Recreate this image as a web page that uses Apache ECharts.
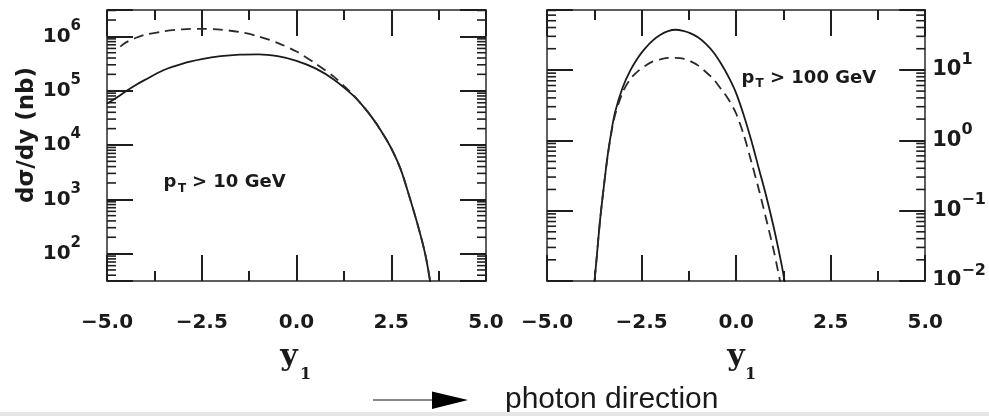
<!DOCTYPE html>
<html><head><meta charset="utf-8">
<script src="https://cdn.jsdelivr.net/npm/echarts@6/dist/echarts.min.js"></script>
<style>html,body{margin:0;padding:0;background:#fff}#c{width:989px;height:416px}</style>
</head><body><div id="c"></div>
<script>
// ---- data ----
const leftSolidX = [-5, -4.75, -4.5, -4.25, -4, -3.5, -3, -2.5, -2, -1.5, -1, -0.5, 0, 0.5, 1, 1.5, 1.75, 2, 2.25, 2.5, 2.75, 3, 3.25, 3.4, 3.5, 3.6];
const leftSolidY = [5.75e4, 7.41e4, 9.77e4, 1.26e5, 1.58e5, 2.40e5, 3.16e5, 3.80e5, 4.32e5, 4.62e5, 4.68e5, 4.32e5, 3.55e5, 2.57e5, 1.58e5, 8.13e4, 5.25e4, 3.16e4, 1.74e4, 8.71e3, 3.55e3, 1.0e3, 251, 95.5, 39.8, 14.1];
const leftDashX = [-4.65, -4.5, -4.25, -4, -3.5, -3, -2.5, -2, -1.5, -1, -0.5, 0, 0.5, 1, 1.25, 1.5, 1.75, 2, 2.25, 2.5, 2.75, 3, 3.25, 3.4, 3.5, 3.6];
const leftDashY = [6.46e5, 7.76e5, 9.33e5, 1.07e6, 1.24e6, 1.35e6, 1.38e6, 1.33e6, 1.20e6, 1.0e6, 7.59e5, 5.25e5, 3.16e5, 1.78e5, 1.23e5, 8.32e4, 5.25e4, 3.16e4, 1.74e4, 8.71e3, 3.55e3, 1.0e3, 251, 95.5, 39.8, 14.1];
const rightSolidX = [-3.78, -3.7, -3.6, -3.5, -3.4, -3.3, -3.2, -3.0, -2.8, -2.6, -2.4, -2.2, -2.0, -1.8, -1.6, -1.4, -1.2, -1.0, -0.8, -0.6, -0.4, -0.2, 0.0, 0.2, 0.4, 0.6, 0.8, 1.0, 1.2, 1.28, 1.32];
const rightSolidY = [6.3e-3, 0.0178, 0.0708, 0.214, 0.589, 1.32, 2.51, 5.62, 9.77, 14.8, 20.4, 26.3, 31.6, 35.5, 37.2, 35.9, 33.1, 28.8, 23.4, 17.8, 12.3, 7.94, 4.68, 2.29, 1.0, 0.398, 0.158, 0.0562, 0.0174, 0.01, 7.1e-3];
const rightDashX = [-3.78, -3.7, -3.6, -3.5, -3.4, -3.3, -3.2, -3.0, -2.8, -2.6, -2.4, -2.2, -2.0, -1.8, -1.6, -1.4, -1.2, -1.0, -0.8, -0.6, -0.4, -0.2, 0.0, 0.2, 0.4, 0.6, 0.8, 1.0, 1.1, 1.17, 1.2];
const rightDashY = [6.3e-3, 0.0178, 0.0708, 0.214, 0.575, 1.26, 2.29, 4.79, 7.41, 9.55, 11.5, 13.2, 14.1, 14.8, 14.8, 14.5, 13.2, 11.5, 9.33, 7.41, 5.37, 3.80, 2.40, 1.20, 0.501, 0.200, 0.0741, 0.0263, 0.0145, 9.5e-3, 7.6e-3];
const xRange = [-5, 5];
const leftYRange = [31.3, 3.06e6];
const rightYRange = [0.01, 71];
const leftLabel = '> 10 GeV';
const rightLabel = '> 100 GeV';
const yTitle = 'dσ/dy (nb)';

function pairs(xs, ys) { return xs.map((x, i) => [x, ys[i]]); }
function minorLogTicks(range) {
  const out = [];
  for (let n = -3; n <= 7; n++) for (let k = 2; k <= 9; k++) {
    const v = k * Math.pow(10, n);
    if (v > range[0] && v < range[1]) out.push([xRange[0], v]);
  }
  return out;
}
const INK = '#1e1e1e';
function xAx(gi, pos, showLabel) {
  return {
    type: 'value', gridIndex: gi, position: pos, min: xRange[0], max: xRange[1], interval: 2.5,
    axisLine: { show: true, onZero: false, lineStyle: { color: '#2a2a2a', width: 1.5 } },
    axisTick: { show: true, inside: true, length: 26, lineStyle: { color: INK, width: 2 } },
    minorTick: { show: true, splitNumber: 2, length: 10, lineStyle: { color: INK, width: 2 } },
    splitLine: { show: false }, minorSplitLine: { show: false },
    axisLabel: { show: showLabel, margin: 32, fontFamily: 'DejaVu Sans', fontWeight: 'bold', fontSize: 20, color: '#1a1a1a',
      formatter: v => (v < 0 ? '−' : '') + Math.abs(v).toFixed(1) }
  };
}
function supFmt(v) {
  const l = Math.log10(v), r = Math.round(l);
  if (Math.abs(l - r) > 1e-3) return '';
  const e = r < 0 ? '−' + (-r) : String(r);
  return '{b|10}{s|' + e + '}';
}
function yAx(gi, pos, range, showLabel, margin, fs) {
  return {
    type: 'log', logBase: 10, gridIndex: gi, position: pos, min: range[0], max: range[1],
    axisLine: { show: true, onZero: false, lineStyle: { color: '#2a2a2a', width: 1.5 } },
    axisTick: { show: true, inside: true, length: 26, lineStyle: { color: INK, width: 2 } },
    minorTick: { show: false }, splitLine: { show: false }, minorSplitLine: { show: false },
    axisLabel: { show: showLabel, margin: margin, formatter: supFmt,
      rich: {
        b: { fontFamily: 'DejaVu Sans', fontWeight: 'bold', fontSize: fs, color: '#1a1a1a' },
        s: { fontFamily: 'DejaVu Sans', fontWeight: 'bold', fontSize: Math.round(fs * 0.75), color: '#1a1a1a', padding: [0, 0, 21, 0] }
      } }
  };
}
function minorRender(params, api) {
  const v = api.value(1);
  const p1 = api.coord([xRange[0], v]);
  const p2 = api.coord([xRange[1], v]);
  const st = { stroke: INK, lineWidth: 1.6 };
  return { type: 'group', children: [
    { type: 'line', shape: { x1: p1[0], y1: p1[1], x2: p1[0] + 9, y2: p1[1] }, style: st },
    { type: 'line', shape: { x1: p2[0], y1: p2[1], x2: p2[0] - 9, y2: p2[1] }, style: st }
  ] };
}
const solidStyle = { color: '#1a1a1a', width: 1.8 };
const dashStyle = { color: '#2a2a2a', width: 1.8, type: [10, 6] };
function lineSeries(xs, ys, ai, style) {
  return { type: 'line', xAxisIndex: ai, yAxisIndex: ai, data: pairs(xs, ys), symbol: 'none', smooth: 0.3,
    lineStyle: style, silent: true, clip: true };
}
const chart = echarts.init(document.getElementById('c'), null, { renderer: 'canvas' });
const txt = (x, y, text, font, align, valign, extra) => Object.assign({ type: 'text', x, y,
  style: { text, font, fill: '#1a1a1a', textAlign: align, textVerticalAlign: valign } }, extra || {});
chart.setOption({
  animation: false,
  backgroundColor: '#ffffff',
  grid: [
    { left: 107, top: 10, width: 379, height: 271 },
    { left: 547, top: 10, width: 379, height: 271 }
  ],
  xAxis: [xAx(0, 'bottom', true), xAx(0, 'top', false), xAx(1, 'bottom', true), xAx(1, 'top', false)],
  yAxis: [
    yAx(0, 'left', leftYRange, true, 26, 20), yAx(0, 'right', leftYRange, false, 8, 20),
    yAx(1, 'left', rightYRange, false, 8, 21), yAx(1, 'right', rightYRange, true, 7, 21)
  ],
  series: [
    lineSeries(leftSolidX, leftSolidY, 0, solidStyle),
    lineSeries(leftDashX, leftDashY, 0, dashStyle),
    lineSeries(rightSolidX, rightSolidY, 2, solidStyle),
    lineSeries(rightDashX, rightDashY, 2, dashStyle),
    { type: 'custom', xAxisIndex: 0, yAxisIndex: 0, data: minorLogTicks(leftYRange), renderItem: minorRender, silent: true, clip: false },
    { type: 'custom', xAxisIndex: 2, yAxisIndex: 2, data: minorLogTicks(rightYRange), renderItem: minorRender, silent: true, clip: false }
  ],
  graphic: [
    txt(27, 135, yTitle, 'bold 23px "DejaVu Sans"', 'center', 'middle', { rotation: Math.PI / 2 }),
    txt(289, 357.5, 'y', 'bold 30px "DejaVu Serif"', 'center', 'middle'),
    txt(300, 374.5, '1', 'bold 16px "DejaVu Serif"', 'left', 'middle'),
    txt(736, 357.5, 'y', 'bold 30px "DejaVu Serif"', 'center', 'middle'),
    txt(745, 374.5, '1', 'bold 16px "DejaVu Serif"', 'left', 'middle'),
    txt(163.5, 182.8, 'p', 'bold 18px "DejaVu Sans"', 'left', 'middle'),
    txt(178, 188.8, 'T', 'bold 12px "DejaVu Sans"', 'left', 'middle'),
    txt(192, 182.8, leftLabel, 'bold 18px "DejaVu Sans"', 'left', 'middle'),
    txt(741.5, 78.3, 'p', 'bold 18px "DejaVu Sans"', 'left', 'middle'),
    txt(755.5, 84.3, 'T', 'bold 12px "DejaVu Sans"', 'left', 'middle'),
    txt(770, 78.3, rightLabel, 'bold 18px "DejaVu Sans"', 'left', 'middle'),
    { type: 'line', shape: { x1: 373, y1: 400, x2: 436, y2: 400 }, style: { stroke: '#111', lineWidth: 1.2 } },
    { type: 'polygon', shape: { points: [[432, 391.5], [468, 400], [432, 409]] }, style: { fill: '#000' } },
    txt(505, 399.5, 'photon direction', '30px "Liberation Sans"', 'left', 'middle'),
    { type: 'rect', z: 100, shape: { x: 0, y: 412, width: 989, height: 4 }, style: { fill: '#e6e6e6' } },
    { type: 'rect', z: 100, shape: { x: 929, y: 285, width: 60, height: 16 }, style: { fill: '#ffffff' } }
  ]
});
</script></body></html>
